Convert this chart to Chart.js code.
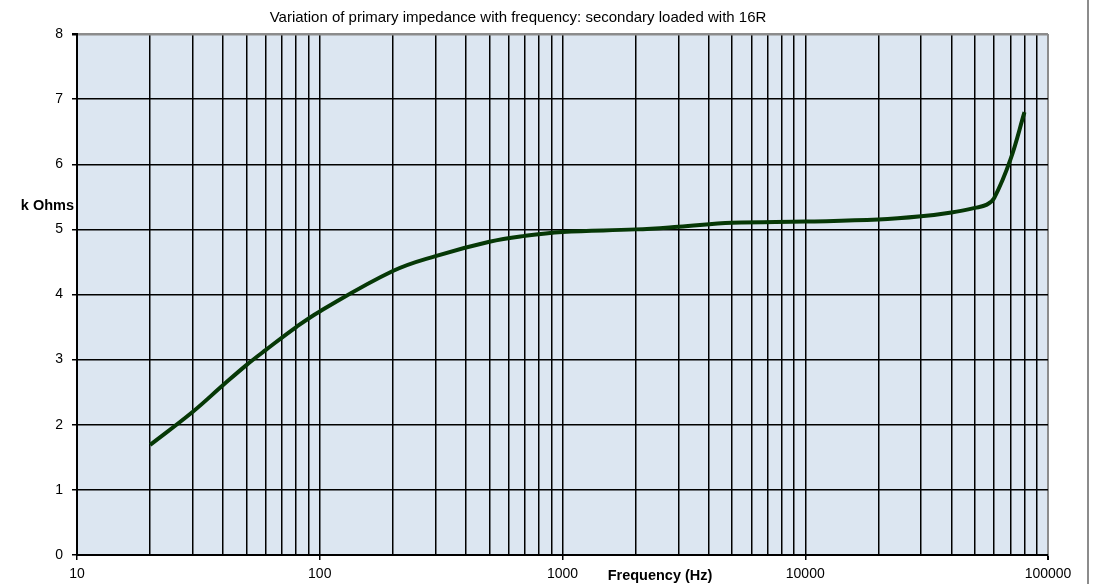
<!DOCTYPE html>
<html>
<head>
<meta charset="utf-8">
<script src="https://cdn.jsdelivr.net/npm/chart.js@4/dist/chart.umd.min.js"></script>
<style>
  html, body { margin: 0; padding: 0; background: #fff; }
  #wrap { width: 1095px; height: 584px; }
</style>
</head>
<body>
<div id="wrap"><canvas id="chart" width="1095" height="584"></canvas></div>
<script>
// values
const freqs = [20, 30, 40, 50, 60, 80, 100, 200, 300, 500, 700,
               1000, 2000, 3000, 5000, 10000, 20000, 30000, 40000,
               50000, 56000, 60000, 70000, 80000];
const kOhms = [1.69, 2.20, 2.61, 2.92, 3.15, 3.50, 3.74, 4.36, 4.59, 4.81, 4.90,
               4.96, 5.00, 5.04, 5.10, 5.12, 5.15, 5.20, 5.26,
               5.33, 5.38, 5.48, 6.07, 6.80];

const xDecades = [10, 100, 1000, 10000, 100000];
const xTicks = [];
xDecades.forEach((d, i) => {
    if (i === xDecades.length - 1) { xTicks.push(d); return; }
    for (let m = 1; m <= 9; m++) xTicks.push(d * m);
});
const yTicks = [0, 1, 2, 3, 4, 5, 6, 7, 8];

const chartTitle = 'Variation of primary impedance with frequency: secondary loaded with 16R';
const xTitle = 'Frequency (Hz)';
const yTitle = 'k Ohms';

const FONT = '"Liberation Sans", Arial, sans-serif';

const decor = {
    id: 'decor',
    beforeDraw(chart) {
        const { ctx, chartArea: a } = chart;
        ctx.save();
        ctx.fillStyle = '#dce6f1';
        ctx.fillRect(a.left, a.top, a.right - a.left, a.bottom - a.top);
        ctx.restore();
    },
    afterDraw(chart) {
        const { ctx } = chart;
        ctx.save();
        ctx.fillStyle = '#000';
        ctx.textBaseline = 'alphabetic';
        ctx.font = '15px ' + FONT;
        ctx.textAlign = 'center';
        ctx.fillText(chartTitle, 518, 22);
        ctx.font = 'bold 14.5px ' + FONT;
        ctx.textAlign = 'right';
        ctx.fillText(yTitle, 74, 210);
        ctx.textAlign = 'center';
        ctx.fillText(xTitle, 660, 580);
        // outer frame edge on the right
        ctx.strokeStyle = '#8c8c8c';
        ctx.lineWidth = 2;
        ctx.beginPath();
        ctx.moveTo(1088, 0);
        ctx.lineTo(1088, 584);
        ctx.stroke();
        ctx.restore();
    }
};

new Chart(document.getElementById('chart'), {
    type: 'line',
    data: {
        datasets: [{
            data: freqs.map((f, i) => ({ x: f, y: kOhms[i] })),
            borderColor: '#063806',
            borderWidth: 4,
            pointRadius: 0,
            fill: false,
            tension: 0.4
        }]
    },
    options: {
        responsive: false,
        animation: false,
        layout: { padding: { top: 34, right: 47, left: 0, bottom: 0 } },
        plugins: { legend: { display: false }, tooltip: { enabled: false } },
        scales: {
            x: {
                type: 'logarithmic',
                min: 10,
                max: 100000,
                afterBuildTicks: s => { s.ticks = xTicks.map(v => ({ value: v })); },
                afterFit: s => { s.height = 29; },
                ticks: {
                    autoSkip: false,
                    maxRotation: 0,
                    padding: 6,
                    color: '#000',
                    font: { family: FONT, size: 14 },
                    callback: v => xDecades.includes(v) ? String(v) : ''
                },
                grid: {
                    color: c => c.tick && c.tick.value === 100000 ? '#8c8c8c' : '#000',
                    lineWidth: c => c.tick && c.tick.value === 100000 ? 2 : 1.5,
                    tickLength: 5,
                    tickColor: c => c.tick && xDecades.includes(c.tick.value) ? '#000' : 'rgba(0,0,0,0)'
                },
                border: { color: '#000', width: 2 }
            },
            y: {
                min: 0,
                max: 8,
                afterBuildTicks: s => { s.ticks = yTicks.map(v => ({ value: v })); },
                afterFit: s => { s.width = 77; },
                ticks: {
                    padding: 9,
                    color: '#000',
                    font: { family: FONT, size: 14 }
                },
                grid: {
                    color: c => c.tick && c.tick.value === 8 ? '#8c8c8c' : '#000',
                    lineWidth: c => c.tick && c.tick.value === 8 ? 2.5 : 1.5,
                    tickLength: 5,
                    tickColor: '#000'
                },
                border: { color: '#000', width: 2 }
            }
        }
    },
    plugins: [decor]
});
</script>
</body>
</html>
